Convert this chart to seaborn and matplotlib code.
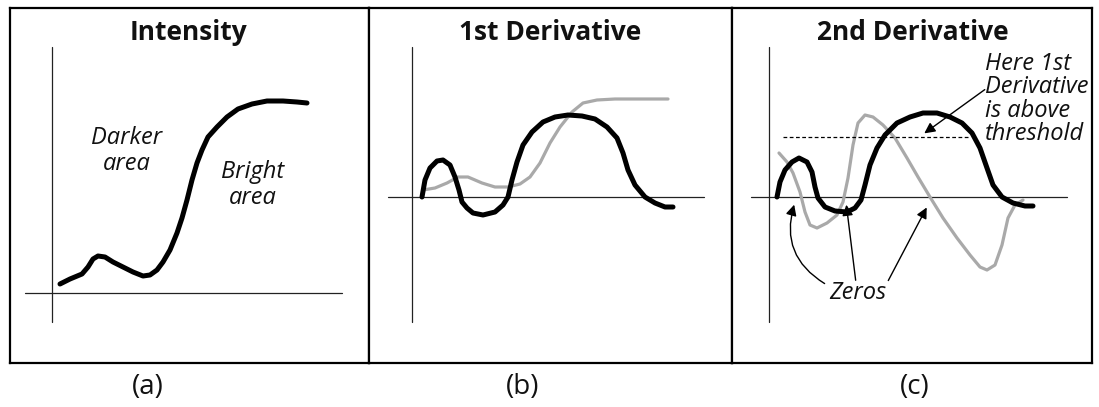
import matplotlib
matplotlib.use("Agg")
import matplotlib.pyplot as plt
import seaborn as sns

sns.set_theme(style="white")
plt.rcParams["font.family"] = ["Open Sans", "DejaVu Sans"]

W, H = 1099, 407

panel_titles = ["Intensity", "1st Derivative", "2nd Derivative"]
panel_labels = ["(a)", "(b)", "(c)"]

# (a) intensity profile
intensity_x = [8, 18, 30, 36, 41, 46, 53, 61, 71, 81, 91, 98, 105, 111, 118, 125, 130,
               135, 140, 145, 150, 156, 165, 175, 186, 200, 215, 231, 245, 255]
intensity_y = [9, 14, 19, 26, 34, 37, 36, 31, 26, 21, 17, 18, 23, 31, 43, 60, 75,
               93, 113, 130, 143, 156, 166, 176, 184, 189, 192, 192, 191, 190]

# (b) 1st derivative (black) and intensity copy (gray)
d1_x = [10, 13, 18, 25, 31, 38, 43, 47, 50, 55, 61, 71, 83, 91, 96, 100, 105, 111, 120,
        131, 143, 156, 170, 183, 195, 205, 211, 216, 223, 233, 243, 253, 261]
d1_y = [0, 17, 29, 36, 37, 32, 20, 7, -5, -11, -16, -18, -15, -8, 0, 17, 35, 52, 65,
        75, 80, 82, 81, 78, 70, 59, 44, 27, 12, 0, -6, -10, -10]
intens_b_x = [11, 23, 35, 46, 56, 70, 83, 96, 108, 118, 128, 138, 148, 160, 171, 185,
              203, 230, 256]
intens_b_y = [7, 9, 14, 20, 20, 14, 10, 10, 13, 20, 34, 54, 70, 85, 94, 97, 98, 98, 98]

# (c) 1st derivative (black) and 2nd derivative (gray)
d1c_x = [8, 11, 16, 23, 30, 38, 43, 46, 49, 56, 66, 78, 86, 92, 96, 101, 108, 116, 128,
         141, 154, 168, 181, 193, 203, 211, 218, 224, 233, 244, 256, 264]
d1c_y = [0, 15, 27, 35, 39, 35, 25, 10, -1, -10, -14, -15, -11, -3, 12, 32, 49, 62, 74,
         80, 84, 84, 80, 74, 64, 49, 29, 12, 0, -6, -9, -9]
d2_x = [10, 18, 24, 31, 36, 41, 48, 58, 68, 74, 79, 84, 89, 96, 104, 114, 126, 138, 149,
        161, 174, 188, 201, 211, 218, 226, 233, 239, 246, 254]
d2_y = [44, 35, 24, 5, -15, -28, -31, -26, -18, -5, 19, 52, 74, 82, 80, 72, 59, 39, 20,
        0, -21, -41, -58, -70, -73, -68, -48, -21, -8, -3]
threshold = 60
threshold_span = [14, 200]

# panel boxes (pixel columns) and axis origins (pixel positions)
box_x = [(10, 369), (369, 732), (732, 1092)]
box_top, box_bottom = 8, 363
origins = [(52, 293), (412, 197), (769, 197)]
hline_x = [(25, 342), (388, 704), (751, 1067)]
vline_y = (47, 322)

fig = plt.figure(figsize=(W / 100, H / 100), dpi=100)
fig.patch.set_facecolor("white")

BLACK_LW = 3.6
GRAY_LW = 2.3
GRAY = "#a9a9a9"

axes = []
for (l, r), (ox, oy), (hx0, hx1) in zip(box_x, origins, hline_x):
    ax = fig.add_axes([l / W, 1 - box_bottom / H, (r - l) / W, (box_bottom - box_top) / H])
    ax.set_xlim(l - ox, r - ox)
    ax.set_ylim(oy - box_bottom, oy - box_top)
    ax.set_xticks([])
    ax.set_yticks([])
    ax.set_facecolor("white")
    for s in ax.spines.values():
        s.set_visible(True)
        s.set_color("black")
        s.set_linewidth(1.6)
    ax.axhline(0, xmin=(hx0 - l) / (r - l), xmax=(hx1 - l) / (r - l), color="#222222", lw=0.9)
    ax.axvline(0, ymin=(box_bottom - vline_y[1]) / (box_bottom - box_top),
               ymax=(box_bottom - vline_y[0]) / (box_bottom - box_top), color="#222222", lw=0.9)
    axes.append(ax)

ax_a, ax_b, ax_c = axes

line_kw = dict(sort=False, estimator=None, solid_capstyle="round", solid_joinstyle="round")
sns.lineplot(x=intensity_x, y=intensity_y, ax=ax_a, color="black", lw=BLACK_LW, **line_kw)
sns.lineplot(x=intens_b_x, y=intens_b_y, ax=ax_b, color=GRAY, lw=GRAY_LW, **line_kw)
sns.lineplot(x=d1_x, y=d1_y, ax=ax_b, color="black", lw=BLACK_LW, **line_kw)
sns.lineplot(x=d2_x, y=d2_y, ax=ax_c, color=GRAY, lw=GRAY_LW, **line_kw)
sns.lineplot(x=d1c_x, y=d1c_y, ax=ax_c, color="black", lw=BLACK_LW, **line_kw)
ax_c.plot(threshold_span, [threshold, threshold], color="black", lw=0.9,
          linestyle=(0, (3, 2)))

# titles
title_pos = [(136, 261), (138, 165), (144, 165)]
for ax, t, (tx, ty) in zip(axes, panel_titles, title_pos):
    ax.text(tx, ty, t, ha="center", va="center", fontsize=19, fontweight="bold", color="#111111")

# annotations panel (a)
ax_a.text(75, 142, "Darker\narea", ha="center", va="center", fontsize=17,
          style="italic", linespacing=1.08, color="#111111")
ax_a.text(201, 108, "Bright\narea", ha="center", va="center", fontsize=17,
          style="italic", linespacing=1.08, color="#111111")

# annotations panel (c)
ax_c.text(216, 98, "Here 1st\nDerivative\nis above\nthreshold", ha="left", va="center",
          fontsize=17, style="italic", linespacing=0.95, color="#111111")
arrow_kw = dict(arrowstyle="-|>", color="black", lw=1.0, mutation_scale=16)
ax_c.annotate("", xy=(153, 62), xytext=(218, 109), arrowprops=arrow_kw)
ax_c.text(89, -96, "Zeros", ha="center", va="center", fontsize=17, style="italic",
          color="#111111")
ax_c.annotate("", xy=(26, -5), xytext=(58, -88),
              arrowprops=dict(arrow_kw, connectionstyle="arc3,rad=-0.4"))
ax_c.annotate("", xy=(77, -5), xytext=(87, -86), arrowprops=arrow_kw)
ax_c.annotate("", xy=(159, -8), xytext=(118, -86), arrowprops=arrow_kw)

# panel labels
label_x = [148, 523, 915]
for lx, lab in zip(label_x, panel_labels):
    fig.text(lx / W, 1 - 387 / H, lab, ha="center", va="center", fontsize=20, color="#111111")

fig.savefig("out.png", dpi=100, facecolor="white")
